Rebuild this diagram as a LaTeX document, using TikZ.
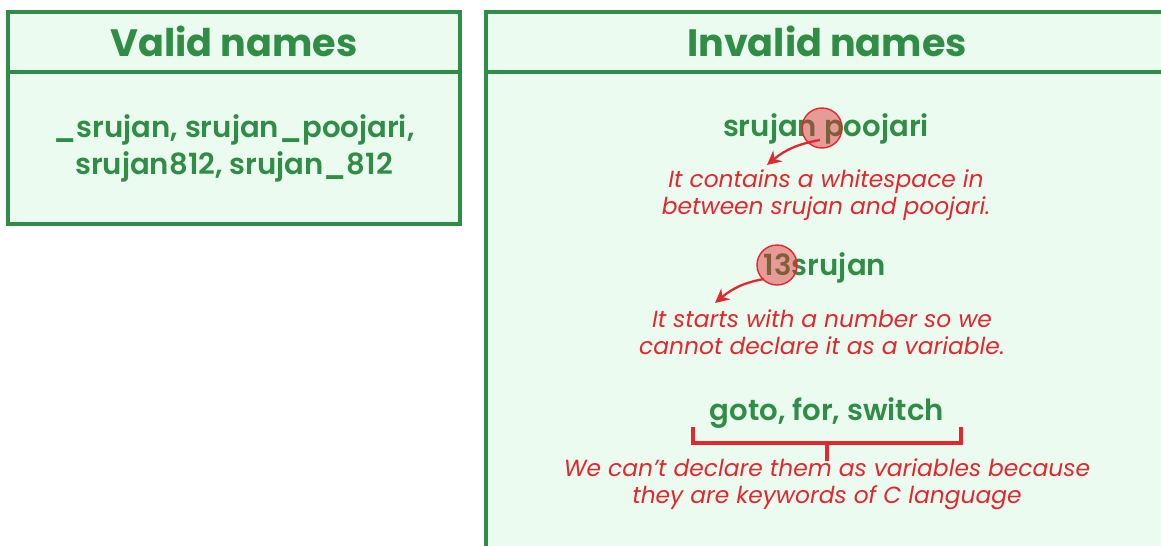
\documentclass[tikz,border=0pt]{standalone}
\usepackage{fontspec}
\setmainfont{Poppins}
\newfontfamily\medfont{Poppins SemiBold}
\usetikzlibrary{arrows.meta}

\definecolor{gfggreen}{HTML}{2F8D46}
\definecolor{boxfill}{HTML}{ECFBEF}
\definecolor{notered}{HTML}{E2282E}

\tikzset{
  namebox/.style={draw=gfggreen, fill=boxfill, line width=2pt},
  headtext/.style={text=gfggreen, font=\bfseries\fontsize{21.7}{25}\selectfont},
  nametext/.style={text=gfggreen, font=\medfont\fontsize{16.6}{21}\selectfont, align=center},
  notetext/.style={text=notered, font=\itshape\fontsize{13.3}{15.3}\selectfont, align=center},
  marker/.style={circle, draw=notered, line width=0.8pt, fill=notered, fill opacity=0.45, minimum size=0.8cm, inner sep=0pt},
  notearrow/.style={draw=notered, line width=1.3pt, -{Stealth[length=8pt, width=8pt]}},
  bracket/.style={draw=notered, line width=2pt}
}

\begin{document}
\begin{tikzpicture}[x=0.02cm, y=0.02cm]
          \clip (0,0) rectangle (1161,-545);

          \draw[namebox] (8,-12) rectangle (460,-224);
          \draw[namebox] (8,-72) -- (460,-72);
          \draw[namebox] (486,-12) rectangle (1172,-570);
          \draw[namebox] (486,-72) -- (1172,-72);

          \node[headtext] (validhead) at (234,-41) {Valid names};
          \node[headtext] (invalidhead) at (827,-41) {Invalid names};

          \node[nametext] (validnames) at (234,-148) {\_srujan, srujan\_poojari,\\srujan812, srujan\_812};

          \node[nametext] (space) at (826,-129) {srujan poojari};
          \node[notetext] (spacenote) at (826,-195) {It contains a whitespace in\\between srujan and poojari.};
          \node[marker] (spacemark) at (822,-128) {};
          \coordinate (spacefrom) at (820,-140);
          \coordinate (spaceto) at (767,-165);
          \draw[notearrow] (spacefrom) to[out=190,in=40] (spaceto);

          \node[nametext] (digit) at (825,-268) {13srujan};
          \node[notetext] (digitnote) at (822,-332) {It starts with a number so we\\cannot declare it as a variable.};
          \node[marker] (digitmark) at (777,-265) {};
          \coordinate (digitfrom) at (764,-279);
          \coordinate (digitto) at (715,-303);
          \draw[notearrow] (digitfrom) to[out=190,in=40] (digitto);

          \node[nametext] (keywords) at (827,-413) {goto, for, switch};
          \coordinate (bracketleft) at (693,-427);
          \coordinate (bracketright) at (961,-427);
          \coordinate (bracketmid) at (827,-443);
          \coordinate (bracketstem) at (827,-461);
          \draw[bracket] (bracketleft) |- (bracketmid) -| (bracketright);
          \draw[bracket] (bracketmid) -- (bracketstem);
          \node[notetext] (keywordnote) at (827,-484) {We can’t declare them as variables because\\they are keywords of C language};
\end{tikzpicture}
\end{document}
